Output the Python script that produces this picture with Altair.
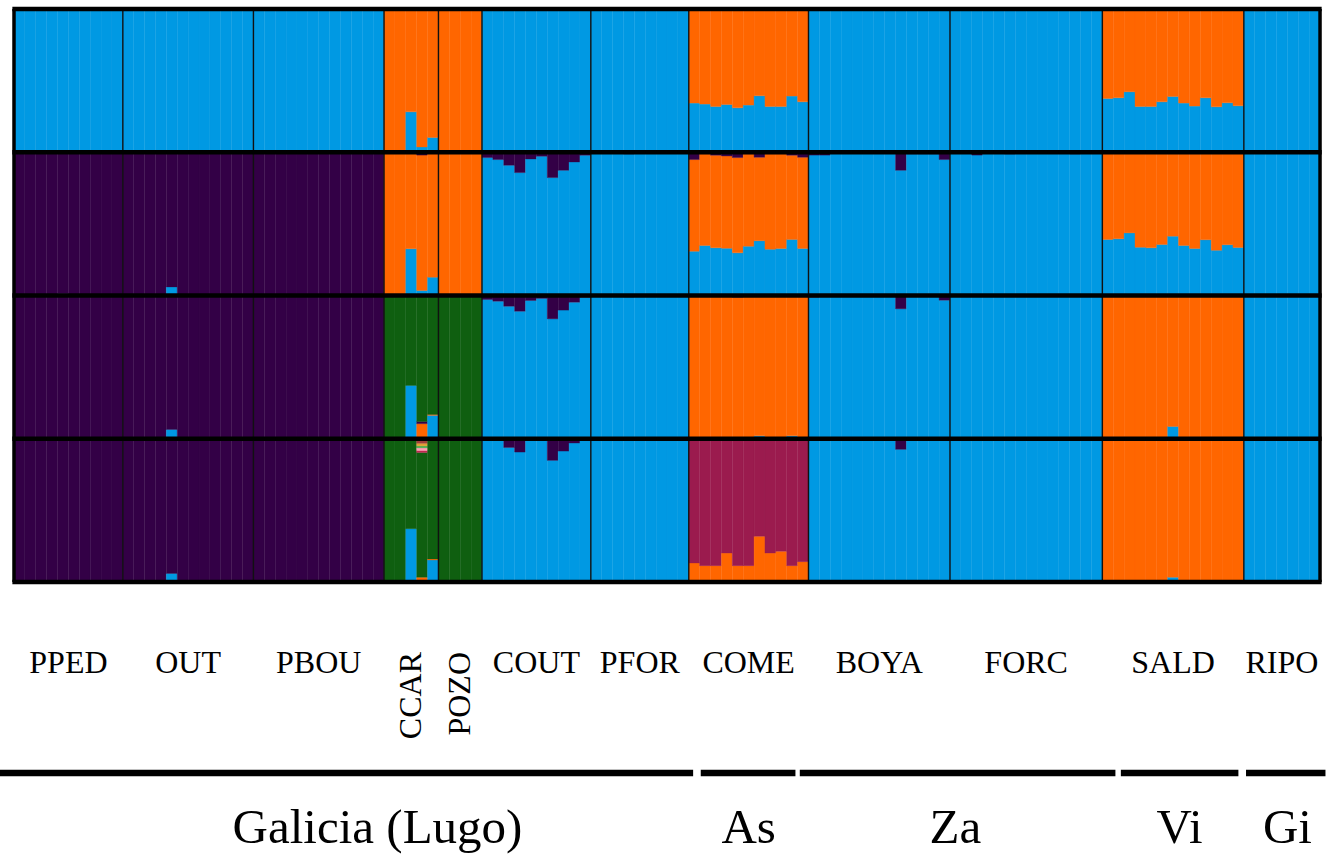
import altair as alt
import pandas as pd

# Populations (left to right) and number of sampled individuals in each
POPS = ["PPED", "OUT", "PBOU", "CCAR", "POZO", "COUT", "PFOR",
        "COME", "BOYA", "FORC", "SALD", "RIPO"]
N_IND = [10, 12, 12, 5, 4, 10, 9, 11, 13, 14, 13, 7]
VERTICAL_LABELS = ["CCAR", "POZO"]

# Regions under the plot, their extent (in individual units) and label anchor
REGIONS = ["Galicia (Lugo)", "As", "Za", "Vi", "Gi"]
REGION_START = [-1.3, 63.1, 72.2, 101.7, 113.2]
REGION_END = [62.4, 71.8, 101.2, 112.5, 120.5]
REGION_LABEL_X = [33.4, 67.5, 86.5, 107.1, 117.0]

# Cluster colours
CLUSTERS = ["blue", "orange", "purple", "green", "maroon",
            "s_red", "s_pink", "s_lime", "s_gold", "s_brown", "s_yellow"]
COLORS = ["#0099E3", "#FF6600", "#330046", "#0F5F10", "#9B1B4E",
          "#C02850", "#FFA0B4", "#4CAF50", "#E0A030", "#A0403A", "#F0E030"]

# Stacking order (bottom to top) for each K
ORDER_K2 = ["blue", "orange"]
ORDER_K3 = ["blue", "orange", "purple"]
ORDER_K4 = ["blue", "orange", "purple", "green"]
ORDER_K5 = ["blue", "orange", "green", "s_red", "s_pink", "s_lime",
            "s_gold", "s_brown", "s_yellow", "maroon", "purple"]

# Membership: per population a dominant cluster plus per-individual minor shares
K2 = {
    "PPED": {"base": "blue"},
    "OUT": {"base": "blue"},
    "PBOU": {"base": "blue"},
    "CCAR": {"base": "orange", "blue": [0, 0, 0.282, 0.037, 0.103]},
    "POZO": {"base": "orange"},
    "COUT": {"base": "blue"},
    "PFOR": {"base": "blue"},
    "COME": {"base": "orange",
             "blue": [0.343, 0.336, 0.319, 0.333, 0.310, 0.329, 0.394,
                      0.319, 0.319, 0.392, 0.352]},
    "BOYA": {"base": "blue"},
    "FORC": {"base": "blue"},
    "SALD": {"base": "orange",
             "blue": [0.375, 0.380, 0.422, 0.319, 0.319, 0.352, 0.389,
                      0.343, 0.322, 0.380, 0.317, 0.345, 0.324]},
    "RIPO": {"base": "blue", "orange": [0, 0.012, 0, 0, 0, 0, 0]},
}

K3 = {
    "PPED": {"base": "purple", "blue": [0, 0, 0, 0, 0.012, 0, 0, 0, 0, 0]},
    "OUT": {"base": "purple", "blue": [0, 0, 0, 0, 0.06, 0, 0, 0, 0, 0, 0, 0]},
    "PBOU": {"base": "purple"},
    "CCAR": {"base": "orange", "blue": [0, 0, 0.326, 0.035, 0.128],
             "purple": [0, 0, 0, 0.02, 0]},
    "POZO": {"base": "orange"},
    "COUT": {"base": "blue",
             "purple": [0.037, 0.051, 0.091, 0.142, 0.047, 0.028, 0.177,
                        0.126, 0.068, 0.021]},
    "PFOR": {"base": "blue", "purple": [0, 0, 0, 0.012, 0, 0, 0, 0, 0]},
    "COME": {"base": "orange",
             "blue": [0.309, 0.349, 0.333, 0.330, 0.298, 0.344, 0.382,
                      0.323, 0.328, 0.391, 0.328],
             "purple": [0.051, 0.010, 0.021, 0.026, 0.037, 0.010, 0.035,
                        0.010, 0.010, 0.021, 0.035]},
    "BOYA": {"base": "blue",
             "purple": [0.02, 0.02, 0, 0, 0, 0, 0, 0, 0.126, 0.012, 0.012,
                        0.012, 0.051]},
    "FORC": {"base": "blue",
             "purple": [0, 0, 0.02, 0, 0, 0.012, 0, 0, 0, 0, 0, 0.012, 0, 0]},
    "SALD": {"base": "orange",
             "blue": [0.391, 0.396, 0.437, 0.337, 0.333, 0.356, 0.414,
                      0.349, 0.328, 0.389, 0.316, 0.354, 0.335]},
    "RIPO": {"base": "blue"},
}

K4 = {
    "PPED": {"base": "purple"},
    "OUT": {"base": "purple", "blue": [0, 0, 0, 0, 0.065, 0, 0, 0, 0, 0, 0, 0]},
    "PBOU": {"base": "purple"},
    "CCAR": {"base": "green", "blue": [0, 0, 0.372, 0, 0.163],
             "orange": [0, 0, 0, 0.105, 0.007],
             "purple": [0, 0, 0, 0.016, 0]},
    "POZO": {"base": "green"},
    "COUT": {"base": "blue",
             "purple": [0.028, 0.040, 0.075, 0.110, 0.035, 0.020, 0.163,
                        0.102, 0.047, 0.012]},
    "PFOR": {"base": "blue", "purple": [0, 0, 0, 0.01, 0, 0, 0, 0, 0]},
    "COME": {"base": "orange",
             "blue": [0, 0, 0, 0, 0, 0, 0.02, 0, 0, 0.02, 0],
             "purple": [0, 0, 0, 0, 0.012, 0, 0, 0, 0, 0, 0]},
    "BOYA": {"base": "blue",
             "purple": [0.012, 0, 0, 0, 0, 0, 0, 0, 0.093, 0, 0, 0, 0.033]},
    "FORC": {"base": "blue"},
    "SALD": {"base": "orange",
             "blue": [0.01, 0, 0.01, 0, 0, 0, 0.086, 0, 0, 0, 0, 0, 0]},
    "RIPO": {"base": "blue", "orange": [0, 0.01, 0, 0.01, 0, 0, 0]},
}

K5 = {
    "PPED": {"base": "purple"},
    "OUT": {"base": "purple", "blue": [0, 0, 0, 0, 0.06, 0, 0, 0, 0, 0, 0, 0]},
    "PBOU": {"base": "purple"},
    "CCAR": {"base": "green", "blue": [0, 0, 0.372, 0, 0.154],
             "orange": [0, 0, 0, 0.033, 0.007],
             "s_red": [0, 0, 0, 0.014, 0], "s_pink": [0, 0, 0, 0.018, 0],
             "s_lime": [0, 0, 0, 0.014, 0], "s_gold": [0, 0, 0, 0.018, 0],
             "s_brown": [0, 0, 0, 0.020, 0], "s_yellow": [0, 0, 0, 0.012, 0]},
    "POZO": {"base": "green"},
    "COUT": {"base": "blue",
             "purple": [0.01, 0.01, 0.061, 0.093, 0.01, 0, 0.151, 0.086,
                        0.03, 0.01]},
    "PFOR": {"base": "blue"},
    "COME": {"base": "maroon",
             "orange": [0.133, 0.114, 0.114, 0.202, 0.114, 0.114, 0.319,
                        0.202, 0.214, 0.114, 0.142]},
    "BOYA": {"base": "blue",
             "purple": [0, 0, 0, 0, 0, 0, 0, 0, 0.074, 0, 0, 0, 0]},
    "FORC": {"base": "blue"},
    "SALD": {"base": "orange",
             "blue": [0, 0, 0, 0, 0, 0, 0.033, 0, 0, 0, 0, 0, 0]},
    "RIPO": {"base": "blue"},
}

ROWS = [(K2, ORDER_K2), (K3, ORDER_K3), (K4, ORDER_K4), (K5, ORDER_K5)]
N_TOTAL = sum(N_IND)

# Stacked segments: row r spans y in [r, r+1], stacking upward from r+1
segments = []
for r, (spec, order) in enumerate(ROWS):
    gi = 0
    for pop, n in zip(POPS, N_IND):
        s = spec[pop]
        for j in range(n):
            share = {c: v[j] for c, v in s.items() if c != "base"}
            share[s["base"]] = 1 - sum(share.values())
            cum = 0.0
            for c in order:
                f = share.get(c, 0)
                if f > 0:
                    segments.append({"x0": gi, "x1": gi + 1,
                                     "y0": r + 1 - cum, "y1": r + 1 - cum - f,
                                     "cluster": c})
                    cum += f
            gi += 1
seg_df = pd.DataFrame(segments)

# Boundaries
bounds = [0]
for n in N_IND:
    bounds.append(bounds[-1] + n)
pop_df = pd.DataFrame({"pop": POPS, "start": bounds[:-1], "end": bounds[1:]})
pop_df["mid"] = (pop_df["start"] + pop_df["end"]) / 2
pop_lines = pd.DataFrame({"x": bounds[1:-1], "y0": 0, "y1": 4})
row_lines = pd.DataFrame({"y": [0, 1, 2, 3, 4], "x0": -0.15, "x1": N_TOTAL + 0.15})
frame_lines = pd.DataFrame({"x": [0, N_TOTAL], "y0": 0, "y1": 4})
region_df = pd.DataFrame({"region": REGIONS, "x0": REGION_START,
                          "x1": REGION_END, "lx": REGION_LABEL_X})

xs = alt.Scale(domain=[-1.286, 121.10], nice=False, zero=False)
ys = alt.Scale(domain=[-0.0628, 5.913], nice=False, zero=False, reverse=True)
SERIF = "Times New Roman, Liberation Serif, serif"
cluster_scale = alt.Scale(domain=CLUSTERS, range=COLORS)

# a hairline outline in the fill colour keeps seams between bars faint
bars = alt.Chart(seg_df).mark_rect(strokeWidth=0.35).encode(
    x=alt.X("x0:Q", scale=xs, axis=None),
    x2="x1:Q",
    y=alt.Y("y0:Q", scale=ys, axis=None),
    y2="y1:Q",
    color=alt.Color("cluster:N", scale=cluster_scale, legend=None),
    stroke=alt.Stroke("cluster:N", scale=cluster_scale, legend=None),
)

pop_rules = alt.Chart(pop_lines).mark_rule(
    color="#111111", strokeWidth=1.4
).encode(x=alt.X("x:Q", scale=xs), y=alt.Y("y0:Q", scale=ys), y2="y1:Q")

row_rules = alt.Chart(row_lines).mark_rule(
    color="black", strokeWidth=4.5
).encode(x=alt.X("x0:Q", scale=xs), x2="x1:Q", y=alt.Y("y:Q", scale=ys))

frame_rules = alt.Chart(frame_lines).mark_rule(
    color="black", strokeWidth=3.5
).encode(x=alt.X("x:Q", scale=xs), y=alt.Y("y0:Q", scale=ys), y2="y1:Q")

h_labels = alt.Chart(pop_df).transform_filter(
    alt.FieldOneOfPredicate(field="pop", oneOf=VERTICAL_LABELS).__invert__()
).mark_text(font=SERIF, fontSize=32, baseline="alphabetic", align="center",
            color="black").encode(
    x=alt.X("mid:Q", scale=xs), y=alt.value(673), text="pop:N")

v_labels = alt.Chart(pop_df).transform_filter(
    alt.FieldOneOfPredicate(field="pop", oneOf=VERTICAL_LABELS)
).mark_text(font=SERIF, fontSize=32, baseline="middle", align="right",
            angle=270, color="black").encode(
    x=alt.X("mid:Q", scale=xs), y=alt.value(652), text="pop:N")

region_rules = alt.Chart(region_df).mark_rule(
    color="black", strokeWidth=6.5
).encode(x=alt.X("x0:Q", scale=xs), x2="x1:Q", y=alt.value(773))

region_labels = alt.Chart(region_df).mark_text(
    font=SERIF, fontSize=49, baseline="alphabetic", align="center", color="black"
).encode(x=alt.X("lx:Q", scale=xs), y=alt.value(843), text="region:N")

chart = alt.layer(
    bars, pop_rules, row_rules, frame_rules,
    h_labels, v_labels, region_rules, region_labels
).properties(
    width=1332, height=856, padding=0, autosize="none", background="white"
).configure_view(stroke=None)

chart.save("out.html", embed_options={"renderer": "svg", "actions": False})
